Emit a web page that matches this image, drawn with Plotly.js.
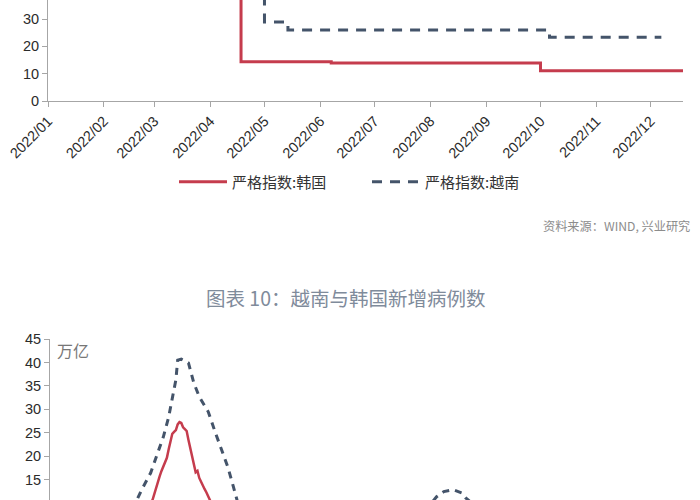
<!DOCTYPE html>
<html>
<head>
<meta charset="utf-8">
<script src="https://cdn.plot.ly/plotly-3.0.1.min.js"></script>
<style>html,body{margin:0;padding:0;background:#fff;overflow:hidden}</style>
</head>
<body>
<div id="chart" style="width:700px;height:500px"></div>
<script>
// ---- Chart 1: stringency index (step lines) ----
var koreaIdxDates = ['2022-01-01', '2022-04-18', '2022-06-07', '2022-10-01', '2022-12-19'];
var koreaIdxValues = [50, 14.35, 13.9, 11.1, 11.1];
var vietIdxDates = ['2022-01-01', '2022-05-01', '2022-05-14', '2022-10-06', '2022-12-07'];
var vietIdxValues = [45, 28.9, 26.0, 23.3, 23.3];
var idxNames = ['严格指数:韩国', '严格指数:越南'];

// ---- Chart 2: new cases ----
var vietCaseDates = ['2022-01-01', '2022-02-01', '2022-02-15', '2022-02-21', '2022-02-26', '2022-03-02', '2022-03-05',
  '2022-03-08', '2022-03-10', '2022-03-12', '2022-03-13', '2022-03-15', '2022-03-19', '2022-03-22', '2022-03-25',
  '2022-03-30', '2022-04-03', '2022-04-07', '2022-04-10', '2022-04-13', '2022-04-15', '2022-04-25', '2022-05-15',
  '2022-07-15', '2022-07-28', '2022-08-04', '2022-08-08', '2022-08-13', '2022-08-18', '2022-08-20', '2022-09-05',
  '2022-10-15', '2022-12-19'];
var vietCaseValues = [2, 4, 8, 12.9, 16.5, 20.7, 24.1,
  28.4, 32.0, 36.3, 40.5, 40.7, 39.9, 35.6, 32.7,
  29.5, 25.0, 20.7, 17.6, 13.5, 10.7, 5, 3,
  2, 8, 11.4, 12.5, 12.9, 12.2, 11.2, 6,
  3, 2];

var korCaseDates = ['2022-01-01', '2022-02-01', '2022-02-15', '2022-02-25',
  '2022-02-27', '2022-02-28', '2022-03-01', '2022-03-02', '2022-03-03', '2022-03-04', '2022-03-05', '2022-03-06',
  '2022-03-07', '2022-03-08', '2022-03-09', '2022-03-10', '2022-03-11', '2022-03-12', '2022-03-13', '2022-03-14',
  '2022-03-15', '2022-03-16', '2022-03-17', '2022-03-18', '2022-03-19', '2022-03-20', '2022-03-21', '2022-03-22',
  '2022-03-23', '2022-03-24', '2022-03-25', '2022-03-26', '2022-03-27', '2022-03-28', '2022-03-29', '2022-03-30',
  '2022-03-31', '2022-04-01', '2022-04-10', '2022-05-01', '2022-06-15', '2022-07-20', '2022-08-15', '2022-09-15',
  '2022-10-15', '2022-11-15', '2022-12-19'];
var korCaseValues = [0.5, 2, 5, 8.5,
  10.7, 12.0, 13.6, 15.0, 15.8, 16.9, 17.8, 18.6,
  19.7, 21.5, 23.4, 24.8, 25.2, 25.6, 26.8, 27.3,
  27.1, 26.2, 25.8, 25.4, 23.5, 21.8, 19.6, 17.8,
  16.6, 16.9, 15.4, 14.6, 13.6, 13.0, 12.3, 11.5,
  10.6, 9.8, 6, 3, 1, 4, 9, 5,
  3, 5, 6];

var RED = '#c53c4d';
var NAVY = '#44546a';
var AXIS = '#a6a6a6';
var TICKFONT = {family: 'Liberation Sans, Arial, sans-serif', size: 14.5, color: '#2b2b2b'};
var YFONT = {family: 'Liberation Sans, Arial, sans-serif', size: 14.5, color: '#2b2b2b'};
var CJK = 'Noto Sans CJK SC, sans-serif';

var traces = [
  {x: koreaIdxDates, y: koreaIdxValues, name: idxNames[0], type: 'scatter', mode: 'lines',
   line: {color: RED, width: 3, shape: 'hv'}, xaxis: 'x', yaxis: 'y'},
  {x: vietIdxDates, y: vietIdxValues, name: idxNames[1], type: 'scatter', mode: 'lines',
   line: {color: NAVY, width: 3, shape: 'hv', dash: '10px,8px'}, xaxis: 'x', yaxis: 'y'},
  {x: vietCaseDates, y: vietCaseValues, name: '越南', type: 'scatter', mode: 'lines', showlegend: false,
   line: {color: NAVY, width: 3, dash: '7px,6px'}, xaxis: 'x2', yaxis: 'y2'},
  {x: korCaseDates, y: korCaseValues, name: '韩国', type: 'scatter', mode: 'lines', showlegend: false,
   line: {color: RED, width: 2.5}, xaxis: 'x2', yaxis: 'y2'}
];

var layout = {
  width: 700, height: 500,
  margin: {l: 0, r: 0, t: 0, b: 0},
  paper_bgcolor: '#ffffff', plot_bgcolor: '#ffffff',
  showlegend: true,
  legend: {orientation: 'h', x: 367 / 700, xanchor: 'center', y: 0.636, yanchor: 'middle',
    font: {family: CJK, size: 15, color: '#333333'}, itemwidth: 48, entrywidth: 130,
    bgcolor: 'rgba(0,0,0,0)'},
  xaxis: {domain: [48 / 700, 683 / 700], anchor: 'y', type: 'date',
    range: ['2022-01-01', '2022-12-19'], tick0: '2022-01-01', dtick: 'M1', tickformat: '%Y/%m',
    tickangle: -45, ticks: 'outside', ticklen: 5, tickcolor: AXIS, showline: true, linecolor: AXIS,
    showgrid: false, zeroline: false, tickfont: TICKFONT},
  yaxis: {domain: [1 - 101 / 500, 1], anchor: 'x', range: [0, 36.95], dtick: 10, tick0: 0,
    ticks: 'outside', ticklen: 5, tickcolor: AXIS, showline: true, linecolor: AXIS,
    showgrid: false, zeroline: false, tickfont: YFONT},
  xaxis2: {domain: [50 / 700, 683 / 700], anchor: 'y2', type: 'date',
    range: ['2022-01-01', '2022-12-19'], visible: false},
  yaxis2: {domain: [0, 1 - 339 / 500], anchor: 'x2', range: [10.7, 45], dtick: 5, tick0: 0,
    ticks: 'outside', ticklen: 5, tickcolor: AXIS, showline: true, linecolor: AXIS,
    showgrid: false, zeroline: false, tickfont: YFONT},
  annotations: [
    {text: '资料来源：WIND, 兴业研究', xref: 'paper', yref: 'paper', x: 692 / 700, y: 1 - 226 / 500,
     xanchor: 'right', yanchor: 'middle', showarrow: false, font: {family: CJK, size: 12.2, color: '#8c8c8c'}},
    {text: '图表 10：越南与韩国新增病例数', xref: 'paper', yref: 'paper', x: 346 / 700, y: 1 - 297 / 500,
     xanchor: 'center', yanchor: 'middle', showarrow: false, font: {family: CJK, size: 19.5, color: '#7f8b9b'}},
    {text: '万亿', xref: 'paper', yref: 'paper', x: 55 / 700, y: 1 - 350 / 500,
     xanchor: 'left', yanchor: 'middle', showarrow: false, font: {family: CJK, size: 16, color: '#777777'}}
  ]
};

Plotly.newPlot('chart', traces, layout, {displayModeBar: false, staticPlot: true});
</script>
</body>
</html>
